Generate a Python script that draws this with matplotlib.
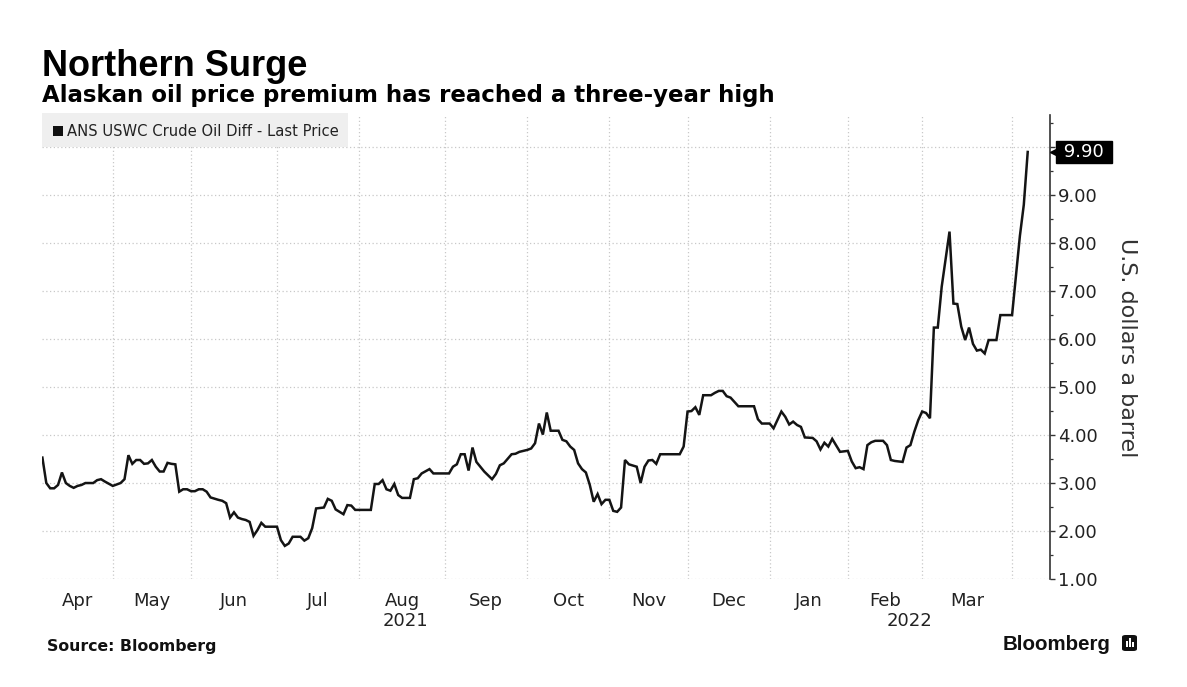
import numpy as np
import pandas as pd
import matplotlib
matplotlib.use("Agg")
import matplotlib.pyplot as plt
import matplotlib.transforms as mtransforms
from matplotlib.patches import Rectangle, FancyBboxPatch

# trading days the chart is drawn on (weekends and market holidays left out)
holidays = ["2021-05-31", "2021-07-05", "2021-09-06", "2021-11-25", "2021-11-26",
            "2021-12-24", "2021-12-31", "2022-01-17", "2022-02-21"]
start_date = "2021-04-07"

# ANS USWC crude oil diff, $/bbl
# day = trading days since start_date
day = [0, 1, 2, 3, 4, 5, 6, 7, 8, 9, 10, 11, 13, 14, 15, 16,                       # Apr
       18, 19, 20, 21, 22, 23, 24, 25, 26, 27, 28, 29, 30, 31, 32, 33, 34, 35, 36, 37,  # May
       38, 39, 40, 41, 42, 43, 45, 46, 47, 48, 49, 50, 51, 52, 53, 54, 55, 56, 57,      # Jun
       60, 61, 62, 63, 64, 66, 67, 68, 69, 70, 72, 73, 74, 75, 77, 78, 79, 80,          # Jul
       84, 85, 86, 87, 88, 89, 90, 91, 92, 94, 95, 96, 97, 99, 100,                     # Aug
       104, 105, 106, 107, 108, 109, 110, 111, 112, 113, 115, 116, 117, 118, 120, 121, 122,  # Sep
       124, 125, 126, 127, 128, 129, 130, 132, 133, 134, 135, 136, 137, 138, 139, 140,
       141, 142, 143, 144,                                                              # Oct
       145, 146, 147, 148, 149, 150, 152, 153, 154, 155, 156, 157, 158, 163, 164,       # Nov
       165, 166, 167, 168, 169, 171, 172, 173, 174, 175, 176, 178, 182, 183, 184,       # Dec
       186, 187, 189, 190, 191, 192, 193, 194, 195, 197, 198, 199, 200, 201, 202, 204,  # Jan
       206, 207, 208, 209, 210, 211, 212, 213, 215, 216, 217, 218, 220, 221, 222, 223, 224,  # Feb
       225, 226, 227, 228, 229, 230, 232, 233, 234, 235, 236, 237, 238, 239, 240, 241,
       242, 244, 245,                                                                   # Mar
       248, 250, 251, 252]                                                              # Apr
price = [3.53, 3.00, 2.89, 2.89, 2.96, 3.22, 3.00, 2.94, 2.90, 2.94, 2.96, 3.00, 3.00, 3.06, 3.08, 3.03,
         2.94, 2.97, 3.00, 3.08, 3.58, 3.40, 3.48, 3.48, 3.40, 3.41, 3.48, 3.34, 3.24, 3.24, 3.42, 3.40, 3.39, 2.82, 2.87, 2.87,
         2.83, 2.83, 2.87, 2.87, 2.82, 2.70, 2.65, 2.63, 2.58, 2.28, 2.39, 2.28, 2.25, 2.23, 2.19, 1.90, 2.02, 2.17, 2.09,
         2.09, 1.81, 1.69, 1.74, 1.88, 1.88, 1.80, 1.85, 2.06, 2.47, 2.49, 2.67, 2.63, 2.45, 2.35, 2.54, 2.53, 2.44,
         2.44, 2.98, 2.98, 3.06, 2.87, 2.84, 2.98, 2.75, 2.69, 2.69, 3.08, 3.10, 3.20, 3.29, 3.20,
         3.20, 3.34, 3.39, 3.60, 3.60, 3.26, 3.74, 3.44, 3.34, 3.24, 3.08, 3.19, 3.37, 3.41, 3.60, 3.61, 3.65,
         3.69, 3.72, 3.83, 4.24, 4.01, 4.47, 4.09, 4.09, 3.90, 3.87, 3.76, 3.69, 3.41, 3.29, 3.22, 2.96,
         2.61, 2.77, 2.56, 2.65,
         2.65, 2.42, 2.40, 2.49, 3.48, 3.39, 3.34, 3.00, 3.34, 3.47, 3.48, 3.40, 3.60, 3.60, 3.76,
         4.49, 4.50, 4.58, 4.42, 4.83, 4.83, 4.88, 4.92, 4.92, 4.81, 4.78, 4.60, 4.60, 4.33, 4.24,
         4.24, 4.14, 4.49, 4.38, 4.22, 4.28, 4.21, 4.17, 3.95, 3.94, 3.87, 3.70, 3.84, 3.76, 3.92, 3.65,
         3.67, 3.45, 3.31, 3.33, 3.29, 3.79, 3.85, 3.88, 3.88, 3.79, 3.48, 3.46, 3.44, 3.74, 3.79, 4.07, 4.31,
         4.49, 4.46, 4.35, 6.24, 6.24, 7.09, 8.24, 6.74, 6.73, 6.26, 5.98, 6.24, 5.90, 5.76, 5.78, 5.70,
         5.98, 5.98, 6.50,
         6.50, 8.15, 8.80, 9.90]

month_names = ["Apr", "May", "Jun", "Jul", "Aug", "Sep", "Oct", "Nov", "Dec", "Jan", "Feb", "Mar"]
years = ["2021", "2022"]
yticks = [1, 2, 3, 4, 5, 6, 7, 8, 9, 10]

W, H = 1187, 687
cal = pd.bdate_range(start_date, "2022-04-29", freq="C", holidays=holidays)
months = cal.to_period("M").astype(str)
_, month_start = np.unique(np.array(months), return_index=True)

fig = plt.figure(figsize=(W / 100, H / 100), dpi=100)
fig.patch.set_facecolor("white")
ax = fig.add_axes([42 / W, 108 / H, 1008 / W, 464 / H])

x0, x1 = -0.1, 257.7
ax.set_xlim(x0, x1)
ax.set_ylim(1.0, 10.67)

# grid
for m in month_start[1:]:
    ax.axvline(m, color="#c8c8c8", lw=0.9, ls=(0, (1, 2)), zorder=0)
for v in yticks:
    ax.axhline(v, color="#c8c8c8", lw=0.9, ls=(0, (1, 2)), zorder=0)

ax.plot(day, price, color="#141414", lw=1.8, solid_joinstyle="miter", zorder=3)

for s in ["left", "top", "bottom"]:
    ax.spines[s].set_visible(False)
ax.spines["right"].set_color("#333333")
ax.spines["right"].set_linewidth(1.2)

ax.yaxis.tick_right()
ax.set_yticks(yticks)
ax.set_yticklabels(["%.2f" % v if v < 10 else "" for v in yticks])
ax.set_yticks(np.arange(1.5, 10.6, 1.0), minor=True)
ax.tick_params(axis="y", which="major", direction="out", length=3.5, width=1.0,
               color="#333333", pad=2, labelsize=13, labelcolor="#222222")
ax.tick_params(axis="y", which="minor", direction="out", length=2.5, width=0.9, color="#333333")

mid = [(month_start[k] + month_start[k + 1]) / 2 for k in range(len(month_names))]
ax.set_xticks(mid)
ax.set_xticklabels(month_names)
ax.tick_params(axis="x", length=0, pad=9, labelsize=13, labelcolor="#222222")

# year labels under the months
ymid = [(x0 + month_start[9]) / 2, (month_start[9] + x1) / 2]
trans_x = mtransforms.blended_transform_factory(ax.transData, fig.transFigure)
for xp, yr in zip(ymid, years):
    ax.text(xp, 1 - 621 / H, yr, transform=trans_x, ha="center", va="center",
            fontsize=13, color="#222222")

# last price tag
trans_y = mtransforms.blended_transform_factory(ax.transAxes, ax.transData)
ax.plot([1.0], [price[-1]], marker="<", ms=9, color="black", transform=trans_y +
        mtransforms.ScaledTranslation(0.055, 0, fig.dpi_scale_trans), clip_on=False, zorder=5)
ax.text(1.0, price[-1], " %.2f " % price[-1], color="white", fontsize=13, ha="left", va="center",
        transform=trans_y + mtransforms.ScaledTranslation(0.08, 0, fig.dpi_scale_trans),
        bbox=dict(boxstyle="square,pad=0.12", fc="black", ec="black"), clip_on=False, zorder=5)

# legend box
fig.add_artist(Rectangle((42 / W, 1 - 147 / H), 306 / W, 34 / H, transform=fig.transFigure,
                         fc="#efefef", ec="none", zorder=4))
fig.add_artist(Rectangle((53 / W, 1 - 136 / H), 10 / W, 10 / H, transform=fig.transFigure,
                         fc="#111111", ec="none", zorder=5))
fig.text(67 / W, 1 - 131 / H, "ANS USWC Crude Oil Diff - Last Price", fontsize=10.6,
         color="#222222", va="center", ha="left", zorder=6)

fig.text(1127 / W, 1 - 348 / H, "U.S. dollars a barrel", rotation=270, ha="center", va="center",
         fontsize=16, color="#333333")

fig.text(42 / W, 1 - 76 / H, "Northern Surge", fontsize=26, fontweight="bold",
         family="Liberation Sans", color="black", va="baseline")
fig.text(42 / W, 1 - 102 / H, "Alaskan oil price premium has reached a three-year high",
         fontsize=16.5, fontweight="bold", color="black", va="baseline")
fig.text(47 / W, 1 - 651 / H, "Source: Bloomberg", fontsize=11.3, fontweight="bold",
         color="#111111", va="baseline")
fig.text(1003 / W, 1 - 650 / H, "Bloomberg", fontsize=14.8, fontweight="bold",
         family="Liberation Sans", color="#111111", va="baseline")

# small logo mark next to Bloomberg
fig.add_artist(FancyBboxPatch((1122 / W, 1 - 651 / H), 15 / W, 16 / H,
                              boxstyle="round,pad=0,rounding_size=0.003",
                              transform=fig.transFigure, fc="#111111", ec="none"))
for bx, bh in zip([1126, 1129, 1132], [6, 9, 5]):
    fig.add_artist(Rectangle((bx / W, 1 - 647 / H), 2 / W, bh / H, transform=fig.transFigure,
                             fc="white", ec="none"))

fig.savefig("out.png", dpi=100, facecolor="white")
